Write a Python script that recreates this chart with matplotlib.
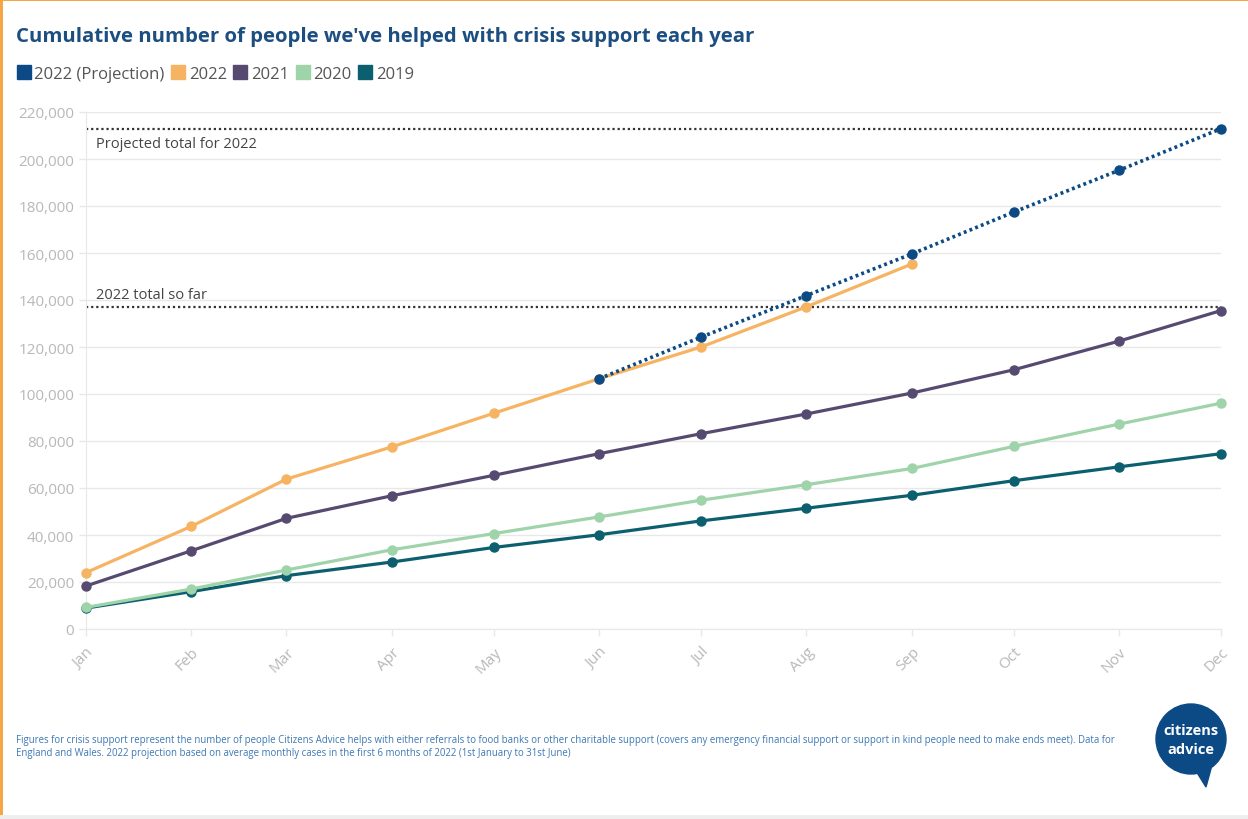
"""
Cumulative number of people helped with crisis support each year (Citizens Advice).
"""

from datetime import date

import matplotlib

matplotlib.use("Agg")
import matplotlib.pyplot as plt
from matplotlib.lines import Line2D
from matplotlib.patches import Circle, Polygon, Rectangle
from matplotlib.ticker import FuncFormatter

plt.rcParams["font.family"] = ["Open Sans", "DejaVu Sans"]

months = ["Jan", "Feb", "Mar", "Apr", "May", "Jun",
          "Jul", "Aug", "Sep", "Oct", "Nov", "Dec"]
month_dates = [date(2022, m, 1) for m in range(1, 13)]

# values
y2022 = [24000, 43700, 63800, 77500, 91800, 106500, 120000, 137100, 155300]
y2022_proj = [106500, 124200, 141900, 159600, 177400, 195200, 212900]
y2021 = [18300, 33300, 47100, 56700, 65400, 74600, 83100, 91500, 100400, 110300, 122500, 135500]
y2020 = [9200, 17000, 25100, 33700, 40600, 47700, 54800, 61400, 68300, 77700, 87200, 96100]
y2019 = [8900, 15900, 22700, 28500, 34700, 40100, 46000, 51400, 56900, 63100, 69000, 74600]

total_so_far = 137100
projected_total = 212900

C_PROJ = "#0b4a85"
C_2022 = "#f6b463"
C_2021 = "#574a70"
C_2020 = "#9fd3aa"
C_2019 = "#0c5f6e"
GRID = "#e8e8e8"
TICK = "#b8b8b8"

W, H = 1248, 820
fig = plt.figure(figsize=(W / 100, H / 100), dpi=100)
fig.patch.set_facecolor("white")

ax = fig.add_axes([86 / W, 1 - 630 / H, (1221 - 86) / W, (630 - 113) / H])

ax.axhline(projected_total, color="#333333", lw=1.6, ls=(0, (1, 1.3)), zorder=2)
ax.axhline(total_so_far, color="#333333", lw=1.6, ls=(0, (1, 1.3)), zorder=2)

series = [
    (y2019, C_2019),
    (y2020, C_2020),
    (y2021, C_2021),
    (y2022, C_2022),
]
for vals, col in series:
    ax.plot(month_dates[:len(vals)], vals, color=col, lw=2.3, marker="o", ms=6.5,
            clip_on=False, zorder=3)

ax.plot(month_dates[5:], y2022_proj, color=C_PROJ, lw=2.6, ls=(0, (0.8, 0.9)),
        marker="o", ms=6.5, clip_on=False, zorder=4)

ax.text(date(2022, 1, 4), projected_total - 3200, "Projected total for 2022",
        fontsize=10.5, color="#444444", va="top", ha="left")
ax.text(date(2022, 1, 4), total_so_far + 2200, "2022 total so far",
        fontsize=10.5, color="#444444", va="bottom", ha="left")

ax.set_xlim(month_dates[0], month_dates[-1])
ax.set_ylim(0, 220000)
ax.set_xticks(month_dates)
ax.set_xticklabels(months, rotation=45, ha="right", va="top",
                   rotation_mode="anchor")
ax.set_yticks(range(0, 220001, 20000))
ax.yaxis.set_major_formatter(FuncFormatter(lambda v, p: f"{int(v):,}"))
ax.tick_params(axis="both", colors=GRID, labelcolor=TICK, labelsize=11,
               length=5, width=1)
ax.tick_params(axis="x", pad=6)
ax.grid(axis="y", color=GRID, lw=1)
ax.set_axisbelow(True)
for side in ["top", "right"]:
    ax.spines[side].set_visible(False)
for side in ["left", "bottom"]:
    ax.spines[side].set_color(GRID)

# title and legend
fig.text(16 / W, 1 - 37 / H, "Cumulative number of people we've helped with crisis support each year",
         fontsize=14.7, fontweight="bold", color="#1c4e80", va="center", ha="left")

handles = [Line2D([], [], ls="none", marker="s", ms=10, color=c)
           for c in [C_PROJ, C_2022, C_2021, C_2020, C_2019]]
labels = ["2022 (Projection)", "2022", "2021", "2020", "2019"]
fig.legend(handles, labels, loc="center left", bbox_to_anchor=(2 / W, 1 - 75 / H),
           ncol=5, frameon=False, fontsize=12, handletextpad=0.25,
           columnspacing=0.4, handlelength=0.8, labelcolor="#555555")

# footnote
note = ("Figures for crisis support represent the number of people Citizens Advice helps with either "
        "referrals to food banks or other charitable support (covers any emergency financial support "
        "or support in kind people need to make ends meet). Data for\n"
        "England and Wales. 2022 projection based on average monthly cases in the first 6 months of "
        "2022 (1st January to 31st June)")
fig.text(16 / W, 1 - 735 / H, note, fontsize=6.95, color="#3d78b3", va="top", ha="left",
         linespacing=1.25)

# logo
lax = fig.add_axes([1150 / W, 1 - 792 / H, 84 / W, 92 / H])
lax.set_xlim(1150, 1234)
lax.set_ylim(792, 700)
lax.axis("off")
lax.add_patch(Circle((1191, 740), 35, color="#0b4a85"))
lax.add_patch(Polygon([[1196, 772], [1212, 766], [1206, 788]], color="#0b4a85"))
lax.text(1191, 731, "citizens", color="white", fontsize=10.5, fontweight="bold",
         ha="center", va="center")
lax.text(1191, 750, "advice", color="white", fontsize=10.5, fontweight="bold",
         ha="center", va="center")

# frame edges
fig.add_artist(Rectangle((0, 0), 3 / W, 1, transform=fig.transFigure,
                         color="#f5a544", lw=0))
fig.add_artist(Rectangle((0, 1 - 2 / H), 1, 2 / H, transform=fig.transFigure,
                         color="#f5a544", lw=0))
fig.add_artist(Rectangle((0, 0), 1, 4 / H, transform=fig.transFigure,
                         color="#eeeeee", lw=0))

fig.savefig("out.png", dpi=100)
